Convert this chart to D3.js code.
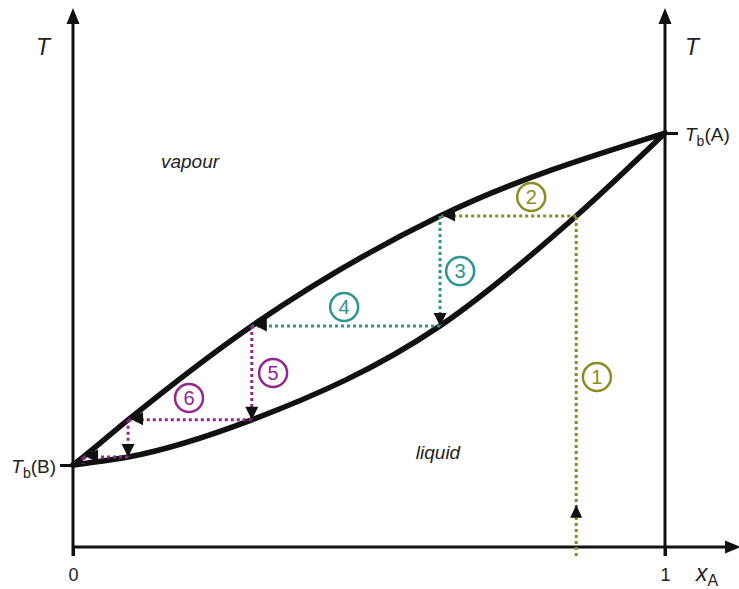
<!DOCTYPE html>
<html>
<head>
<meta charset="utf-8">
<script src="https://cdn.jsdelivr.net/npm/d3@7"></script>
<style>
  html, body { margin: 0; padding: 0; background: #fff; }
  svg { display: block; font-family: "Liberation Sans", Arial, sans-serif; }
</style>
</head>
<body>
<svg id="chart" width="739" height="589"></svg>
<script>
// Boiling-point diagram of a binary mixture A/B: liquid and vapour curves
// with the stepwise fractional-distillation path drawn between them.

// Mole fraction of A and reduced temperature (0 = Tb(B), 1 = Tb(A))
const liquidX = [0, 0.017, 0.093, 0.302, 0.62, 0.85, 1];
const liquidT = [0, 0.004, 0.024, 0.136, 0.419, 0.75, 1];
const vapourX = [0, 0.017, 0.093, 0.302, 0.62, 1];
const vapourT = [0, 0.024, 0.136, 0.419, 0.75, 1];

// Distillation path: liquid compositions and the tie-line temperatures
const stageX = [0.85, 0.62, 0.302, 0.093, 0.017];
const tieT = [0.75, 0.419, 0.136, 0.024];
const startT = -0.274;          // heating starts below the composition axis
const stepLabels = ["1", "2", "3", "4", "5", "6"];
const stepColors = ["#8c8c22", "#8c8c22", "#2b9591", "#2b9591", "#93278f", "#93278f", "#93278f", "#93278f", "#93278f"];

const axisTicksX = [0, 1];
const axisTickLabelsX = ["0", "1"];

const svg = d3.select("#chart");
const x = d3.scaleLinear().domain([0, 1]).range([73, 665]);
const y = d3.scaleLinear().domain([0, 1]).range([465, 133]);
const yBottom = y.invert(547);

// ---- axes ----
const axisG = svg.append("g");
const xAxis = axisG.append("g")
  .attr("transform", `translate(0,${y(yBottom)})`)
  .call(d3.axisBottom(x).tickValues(axisTicksX).tickSize(9).tickSizeOuter(0)
    .tickFormat((d, i) => axisTickLabelsX[i]).tickPadding(12));
xAxis.select(".domain").remove();
xAxis.selectAll("line").attr("stroke", "#111").attr("stroke-width", 3);
xAxis.selectAll("text").attr("font-size", 18).attr("fill", "#222")
  .attr("font-family", "Liberation Sans, Arial, sans-serif");

const leftAxis = axisG.append("g")
  .attr("transform", `translate(${x(0)},0)`)
  .call(d3.axisLeft(y).tickValues([0]).tickSize(13).tickFormat(""));
leftAxis.select(".domain").remove();
leftAxis.selectAll("line").attr("stroke", "#111").attr("stroke-width", 3);

const rightAxis = axisG.append("g")
  .attr("transform", `translate(${x(1)},0)`)
  .call(d3.axisRight(y).tickValues([1]).tickSize(13).tickFormat(""));
rightAxis.select(".domain").remove();
rightAxis.selectAll("line").attr("stroke", "#111").attr("stroke-width", 3);

// axis lines with arrowheads
const axisLine = (x1, y1, x2, y2) => axisG.append("line")
  .attr("x1", x1).attr("y1", y1).attr("x2", x2).attr("y2", y2)
  .attr("stroke", "#111").attr("stroke-width", 3);
axisLine(x(0), y(yBottom) + 9, x(0), 20);
axisLine(x(1), y(yBottom) + 9, x(1), 20);
axisLine(x(0), y(yBottom), 730, y(yBottom));

function triangle(tx, ty, dir, len, half, color) {
  // tip at (tx,ty), pointing in direction dir (radians)
  const cx = Math.cos(dir), cy = Math.sin(dir);
  const bx = tx - cx * len, by = ty - cy * len;
  const px = -cy * half, py = cx * half;
  return svg.append("path")
    .attr("d", `M${tx},${ty}L${bx + px},${by + py}L${bx - px},${by - py}Z`)
    .attr("fill", color);
}
triangle(x(0), 8, -Math.PI / 2, 16, 6.5, "#111");
triangle(x(1), 8, -Math.PI / 2, 16, 6.5, "#111");
triangle(741, y(yBottom), 0, 16, 6.5, "#111");

// ---- phase curves ----
const line = d3.line().x(d => x(d[0])).y(d => y(d[1])).curve(d3.curveMonotoneX);
svg.append("path").datum(liquidX.map((v, i) => [v, liquidT[i]]))
  .attr("d", line).attr("fill", "none").attr("stroke", "#111")
  .attr("stroke-width", 5.5).attr("stroke-linecap", "round");
svg.append("path").datum(vapourX.map((v, i) => [v, vapourT[i]]))
  .attr("d", line).attr("fill", "none").attr("stroke", "#111")
  .attr("stroke-width", 5.5).attr("stroke-linecap", "round");

// ---- distillation staircase ----
const segs = [];
segs.push({ x1: stageX[0], t1: startT, x2: stageX[0], t2: tieT[0], kind: "up" });
for (let i = 0; i < tieT.length; i++) {
  segs.push({ x1: stageX[i], t1: tieT[i], x2: stageX[i + 1], t2: tieT[i], kind: "h" });
  const tNext = i + 1 < tieT.length ? tieT[i + 1] : liquidT[1];
  segs.push({ x1: stageX[i + 1], t1: tieT[i], x2: stageX[i + 1], t2: tNext, kind: i + 1 < tieT.length ? "v" : "end" });
}

segs.forEach((s, i) => {
  const c = stepColors[i];
  svg.append("line")
    .attr("x1", x(s.x1)).attr("y1", y(s.t1)).attr("x2", x(s.x2)).attr("y2", y(s.t2))
    .attr("stroke", c).attr("stroke-width", 3).attr("stroke-dasharray", "3 3");
});
segs.forEach((s, i) => {
  if (s.kind === "up") triangle(x(s.x1), y(-0.12), -Math.PI / 2, 13, 6, "#111");
  else if (s.kind === "h") triangle(x(s.x2) + 2, y(s.t2) - 1, Math.PI, 13, 6.5, "#111");
  else if (s.kind === "v") triangle(x(s.x2), y(s.t2), Math.PI / 2, 13, 6.5, "#111");
});

// step number badges, placed in data coordinates
const labelX = [0.885, 0.774, 0.654, 0.458, 0.338, 0.196];
const labelT = [0.265, 0.807, 0.584, 0.476, 0.277, 0.202];
stepLabels.forEach((lab, i) => {
  const g = svg.append("g").attr("transform", `translate(${x(labelX[i])},${y(labelT[i])})`);
  g.append("circle").attr("r", 14).attr("fill", "#fff")
    .attr("stroke", stepColors[i]).attr("stroke-width", 2.5);
  g.append("text").text(lab).attr("text-anchor", "middle").attr("dy", "0.36em")
    .attr("font-size", 20).attr("fill", stepColors[i]);
});

// ---- text labels ----
svg.append("text").text("vapour").attr("x", 190).attr("y", 168)
  .attr("text-anchor", "middle").attr("font-style", "italic").attr("font-size", 19).attr("fill", "#222");
svg.append("text").text("liquid").attr("x", 438).attr("y", 459)
  .attr("text-anchor", "middle").attr("font-style", "italic").attr("font-size", 19).attr("fill", "#222");

svg.append("text").text("T").attr("x", 43).attr("y", 55)
  .attr("text-anchor", "middle").attr("font-style", "italic").attr("font-size", 23).attr("fill", "#222");
svg.append("text").text("T").attr("x", 692).attr("y", 55)
  .attr("text-anchor", "middle").attr("font-style", "italic").attr("font-size", 23).attr("fill", "#222");

function tbLabel(xPos, yPos, species, anchor) {
  const t = svg.append("text").attr("x", xPos).attr("y", yPos)
    .attr("font-size", 19).attr("fill", "#222").attr("text-anchor", anchor);
  t.append("tspan").text("T").attr("font-style", "italic");
  t.append("tspan").text("b").attr("font-size", 14).attr("dy", 5);
  t.append("tspan").text(`(${species})`).attr("dy", -5);
}
tbLabel(x(1) + 20, y(1) + 8, "A", "start");
tbLabel(x(0) - 17, y(0) + 8, "B", "end");

const xa = svg.append("text").attr("x", 696).attr("y", 581).attr("font-size", 23).attr("fill", "#222");
xa.append("tspan").text("x").attr("font-style", "italic");
xa.append("tspan").text("A").attr("font-size", 16).attr("dy", 5);
</script>
</body>
</html>
